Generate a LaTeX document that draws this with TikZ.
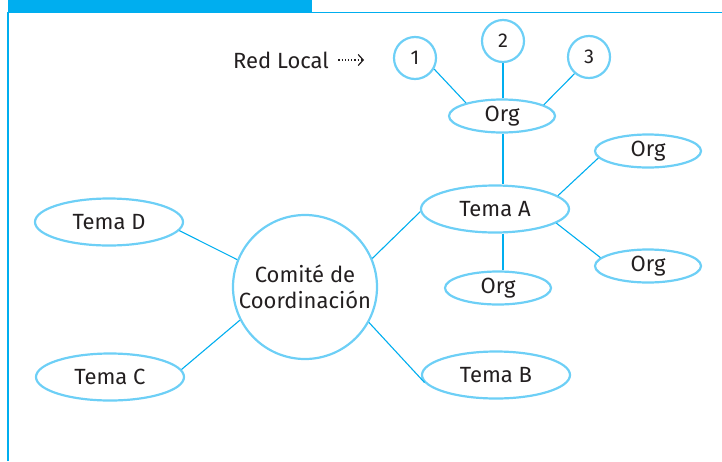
\documentclass[tikz,border=0pt]{standalone}
\usepackage{fontspec}
\setmainfont{Fira Sans}
\usetikzlibrary{shapes.geometric,arrows.meta}
\definecolor{barblue}{HTML}{00AEEF}
\definecolor{ringblue}{HTML}{6DCFF6}
\definecolor{inkgray}{HTML}{231F20}

\begin{document}
\begin{tikzpicture}[x=1pt,y=-1pt,
  every node/.style={text=inkgray,font=\fontsize{22}{26}\selectfont},
  bubble/.style={ellipse,draw=ringblue,line width=2.2pt,inner sep=0pt,
    minimum width=148pt,minimum height=47pt},
  orgbub/.style={bubble,minimum width=106pt,minimum height=33pt},
  numbub/.style={circle,draw=ringblue,line width=2.2pt,inner sep=0pt,
    minimum size=42pt,font=\fontsize{20}{22}\selectfont},
  link/.style={draw=barblue,line width=1.1pt}]
  \useasboundingbox (0,0) rectangle (722,461);
  % frame
  \fill[barblue] (8,0) rectangle (312,12);
  \draw[barblue,line width=1.3pt] (8,461)--(8,12.5)--(722,12.5);

  % center and topics
  \node[circle,draw=ringblue,line width=2.2pt,minimum size=144pt,inner sep=0pt,
    align=center] (comite) at (305,287) {Comité de\\Coordinación};
  \node[bubble] (temaA) at (495,209) {Tema A};
  \node[bubble] (temaB) at (496,375) {Tema B};
  \node[bubble] (temaC) at (110,377) {Tema C};
  \node[bubble] (temaD) at (109,222) {Tema D};

  % organisations round Tema A
  \node[orgbub] (orgtop) at (502,116) {Org};
  \node[orgbub] (orgne) at (648,151) {Org};
  \node[orgbub] (orgse) at (648,266) {Org};
  \node[orgbub] (orgs) at (498,288) {Org};

  % local network
  \node[numbub] (n1) at (415,58) {1};
  \node[numbub] (n2) at (503,41) {2};
  \node[numbub] (n3) at (589,57) {3};
  \node (red) at (281,60) {Red Local};
  \coordinate (redtip) at (364,60);

  \draw[link] (comite.158)--(temaD.-7);
  \draw[link] (comite.207)--(temaC.6);
  \draw[link] (comite.23)--(temaA.182);
  \draw[link] (comite.-29)--(temaB.186);
  \draw[link] (temaA.south -| n2)--(orgs.north -| n2);
  \draw[link] (temaA.north -| n2)--(orgtop.south -| n2);
  \draw[link] (temaA.12)--(orgne.188);
  \draw[link] (temaA.-13)--(orgse.170);
  \draw[link] (orgtop.160)--(n1.-30);
  \draw[link] (orgtop.north -| n2)--(n2);
  \draw[link] (orgtop.15)--(n3.229);
  \draw[inkgray,line width=1.2pt,dotted,shorten <=6pt,
    -{Straight Barb[length=5pt,width=11pt,line width=1.2pt]}] (red.east)--(redtip);
\end{tikzpicture}
\end{document}
